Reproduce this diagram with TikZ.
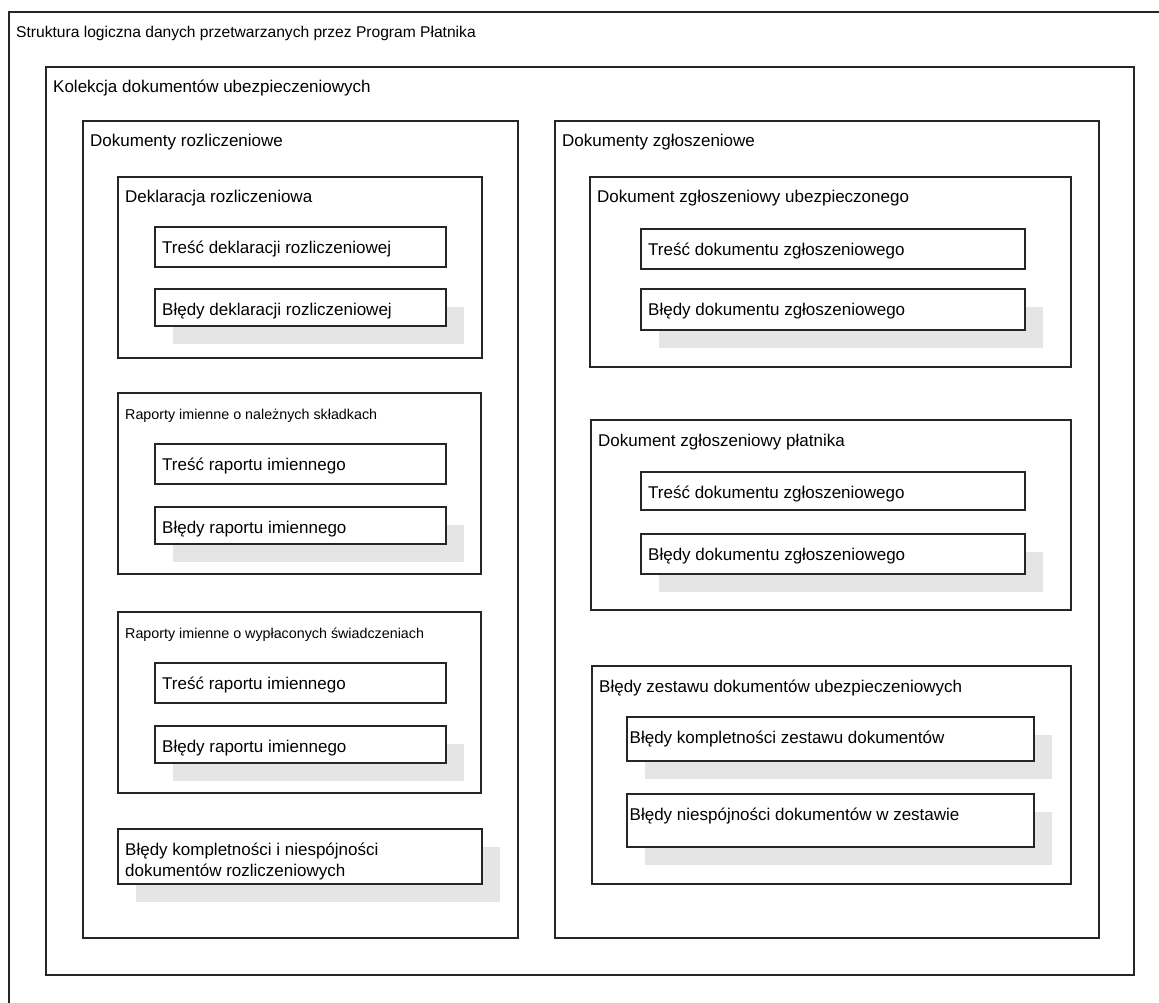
\documentclass[tikz,border=0pt]{standalone}
\usepackage{fontspec}
\setmainfont{Liberation Sans}
\usetikzlibrary{shadows}

\begin{document}
\begin{tikzpicture}[x=1pt, y=-1pt,
		box/.style={draw=black!85, line width=1.4pt, fill=white, inner sep=0pt, outer sep=0pt, anchor=north west},
		boxlabel/.style={anchor=base west, xshift=7pt, yshift=-26pt, inner sep=0pt, align=left, font=\fontsize{17pt}{21pt}\selectfont},
		smalllabel/.style={boxlabel, font=\fontsize{14.3pt}{17pt}\selectfont},
		boxshadow/.style={drop shadow={shadow xshift=18pt, shadow yshift=-18pt, fill=black!10, opacity=1}}
	]
		
		\useasboundingbox (0,0) rectangle (1159,1003);
		\clip (0,0) rectangle (1159,1003);
		
		\node[box, minimum width=1190, minimum height=1030, label={[boxlabel, font=\fontsize{15.6pt}{19pt}\selectfont]north west:Struktura logiczna danych przetwarzanych przez Program Płatnika}] (struktura) at (9,12) {};
		\node[box, minimum width=1088, minimum height=908, label={[boxlabel]north west:Kolekcja dokumentów ubezpieczeniowych}] (kolekcja) at (46,67) {};
		
		\node[box, minimum width=435, minimum height=817, label={[boxlabel]north west:Dokumenty rozliczeniowe}] (rozliczeniowe) at (83,121) {};
		\node[box, minimum width=544, minimum height=817, label={[boxlabel]north west:Dokumenty zgłoszeniowe}] (zgloszeniowe) at (555,121) {};
		
		\node[box, minimum width=364, minimum height=181, label={[boxlabel]north west:Deklaracja rozliczeniowa}] (deklaracja) at (118,177) {};
		\node[box, minimum width=291, minimum height=40, label={[boxlabel]north west:Treść deklaracji rozliczeniowej}] (dekltresc) at (155,227) {};
		\node[box, boxshadow, minimum width=291, minimum height=37, label={[boxlabel]north west:Błędy deklaracji rozliczeniowej}] (deklbledy) at (155,289) {};
		
		\node[box, minimum width=363, minimum height=181, label={[smalllabel]north west:Raporty imienne o należnych składkach}] (naleznych) at (118,393) {};
		\node[box, minimum width=291, minimum height=40, label={[boxlabel]north west:Treść raportu imiennego}] (naltresc) at (155,444) {};
		\node[box, boxshadow, minimum width=291, minimum height=37, label={[boxlabel]north west:Błędy raportu imiennego}] (nalbledy) at (155,507) {};
		
		\node[box, minimum width=363, minimum height=181, label={[smalllabel]north west:Raporty imienne o wypłaconych świadczeniach}] (wyplaconych) at (118,612) {};
		\node[box, minimum width=291, minimum height=40, label={[boxlabel]north west:Treść raportu imiennego}] (wyptresc) at (155,663) {};
		\node[box, boxshadow, minimum width=291, minimum height=37, label={[boxlabel]north west:Błędy raportu imiennego}] (wypbledy) at (155,726) {};
		
		\node[box, boxshadow, minimum width=364, minimum height=55, label={[boxlabel, yshift=-21pt]north west:Błędy kompletności i niespójności\\dokumentów rozliczeniowych}] (komplrozl) at (118,829) {};
		
		\node[box, minimum width=481, minimum height=190, label={[boxlabel]north west:Dokument zgłoszeniowy ubezpieczonego}] (ubezpieczony) at (590,177) {};
		\node[box, minimum width=384, minimum height=40, label={[boxlabel]north west:Treść dokumentu zgłoszeniowego}] (ubeztresc) at (641,229) {};
		\node[box, boxshadow, minimum width=384, minimum height=41, label={[boxlabel]north west:Błędy dokumentu zgłoszeniowego}] (ubezbledy) at (641,289) {};
		
		\node[box, minimum width=480, minimum height=190, label={[boxlabel]north west:Dokument zgłoszeniowy płatnika}] (platnik) at (591,420) {};
		\node[box, minimum width=384, minimum height=38, label={[boxlabel]north west:Treść dokumentu zgłoszeniowego}] (plattresc) at (641,472) {};
		\node[box, boxshadow, minimum width=384, minimum height=40, label={[boxlabel]north west:Błędy dokumentu zgłoszeniowego}] (platbledy) at (641,534) {};
		
		\node[box, minimum width=479, minimum height=218, label={[boxlabel]north west:Błędy zestawu dokumentów ubezpieczeniowych}] (zestaw) at (592,666) {};
		\node[box, boxshadow, minimum width=407, minimum height=44, label={[boxlabel, xshift=-4.5pt]north west:Błędy kompletności zestawu dokumentów}] (zestkompl) at (627,717) {};
		\node[box, boxshadow, minimum width=407, minimum height=53, label={[boxlabel, xshift=-4.5pt]north west:Błędy niespójności dokumentów w zestawie}] (zestniesp) at (627,794) {};
	\end{tikzpicture}
\end{document}
